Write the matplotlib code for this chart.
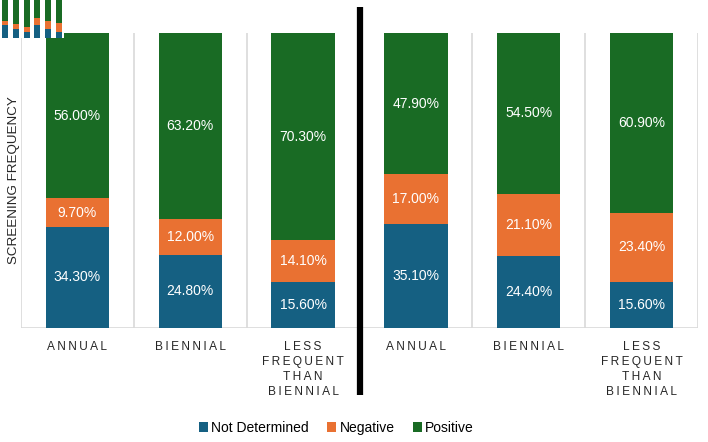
import numpy as np
import matplotlib.pyplot as plt

plt.rcParams['font.family'] = ['Liberation Sans', 'DejaVu Sans']

# -------------------------------
# Data (percent of each screening group)
# -------------------------------
categories = ["ANNUAL", "BIENNIAL", "LESS\nFREQUENT\nTHAN\nBIENNIAL",
              "ANNUAL", "BIENNIAL", "LESS\nFREQUENT\nTHAN\nBIENNIAL"]
not_determined = [34.3, 24.8, 15.6, 35.1, 24.4, 15.6]
negative = [9.7, 12.0, 14.1, 17.0, 21.1, 23.4]
positive = [56.0, 63.2, 70.3, 47.9, 54.5, 60.9]

series_names = ["Not Determined", "Negative", "Positive"]
colors = ["#156082", "#E97132", "#196B24"]


def spaced(label):
    # imitate the wide letter spacing of the axis labels
    return "\n".join("\u2009".join(list(line)) for line in label.split("\n"))


def draw_bars(ax, labels=True):
    x = np.arange(len(categories))
    bottom = np.zeros(len(categories))
    bars = []
    for name, vals, c in zip(series_names, [not_determined, negative, positive], colors):
        b = ax.bar(x, vals, width=0.56, bottom=bottom, color=c, label=name, zorder=3)
        bars.append(b)
        if labels:
            for xi, v, b0 in zip(x, vals, bottom):
                ax.text(xi, b0 + v / 2, f"{v:.2f}%", ha="center", va="center",
                        color="white", fontsize=10, zorder=4)
        bottom += np.array(vals)
    ax.set_xlim(-0.5, len(categories) - 0.5)
    ax.set_ylim(0, 100)
    return x, bars


fig = plt.figure(figsize=(7.08, 4.42), dpi=100)
ax = fig.add_axes([21 / 708, 1 - 328 / 442, 677 / 708, 295 / 442])

x, bars = draw_bars(ax)

# vertical separators between categories
for xv in np.arange(-0.5, len(categories), 1.0):
    ax.axvline(xv, color="#d9d9d9", lw=1.2, zorder=1)
ax.axhline(0, color="#d9d9d9", lw=1.2, zorder=1)

# thick black divider between the two groups
ax.plot([2.5, 2.5], [-0.227 * 100, 1.088 * 100], color="black", lw=4.5,
        clip_on=False, zorder=5, solid_capstyle="butt")

for s in ax.spines.values():
    s.set_visible(False)
ax.set_yticks([])
ax.set_xticks(x)
ax.set_xticklabels([spaced(c) for c in categories], fontsize=8.6,
                   color="#262626", linespacing=1.35)
ax.tick_params(axis="x", length=0, pad=9)
ax.set_ylabel("SCREENING FREQUENCY", fontsize=9.6, color="#262626", labelpad=1)

fig.legend(handles=bars, labels=series_names, loc="center", ncol=3,
           bbox_to_anchor=(0.475, 1 - 428 / 442), frameon=False, fontsize=10,
           handlelength=0.65, handleheight=0.65, handletextpad=0.25, columnspacing=1.3)

# small thumbnail of the chart in the top-left corner
ins = fig.add_axes([0.0, 1 - 38 / 442, 64 / 708, 38 / 442])
draw_bars(ins, labels=False)
ins.set_xticks([])
ins.set_yticks([])
for s in ins.spines.values():
    s.set_visible(False)

fig.savefig("out.png", dpi=100)
